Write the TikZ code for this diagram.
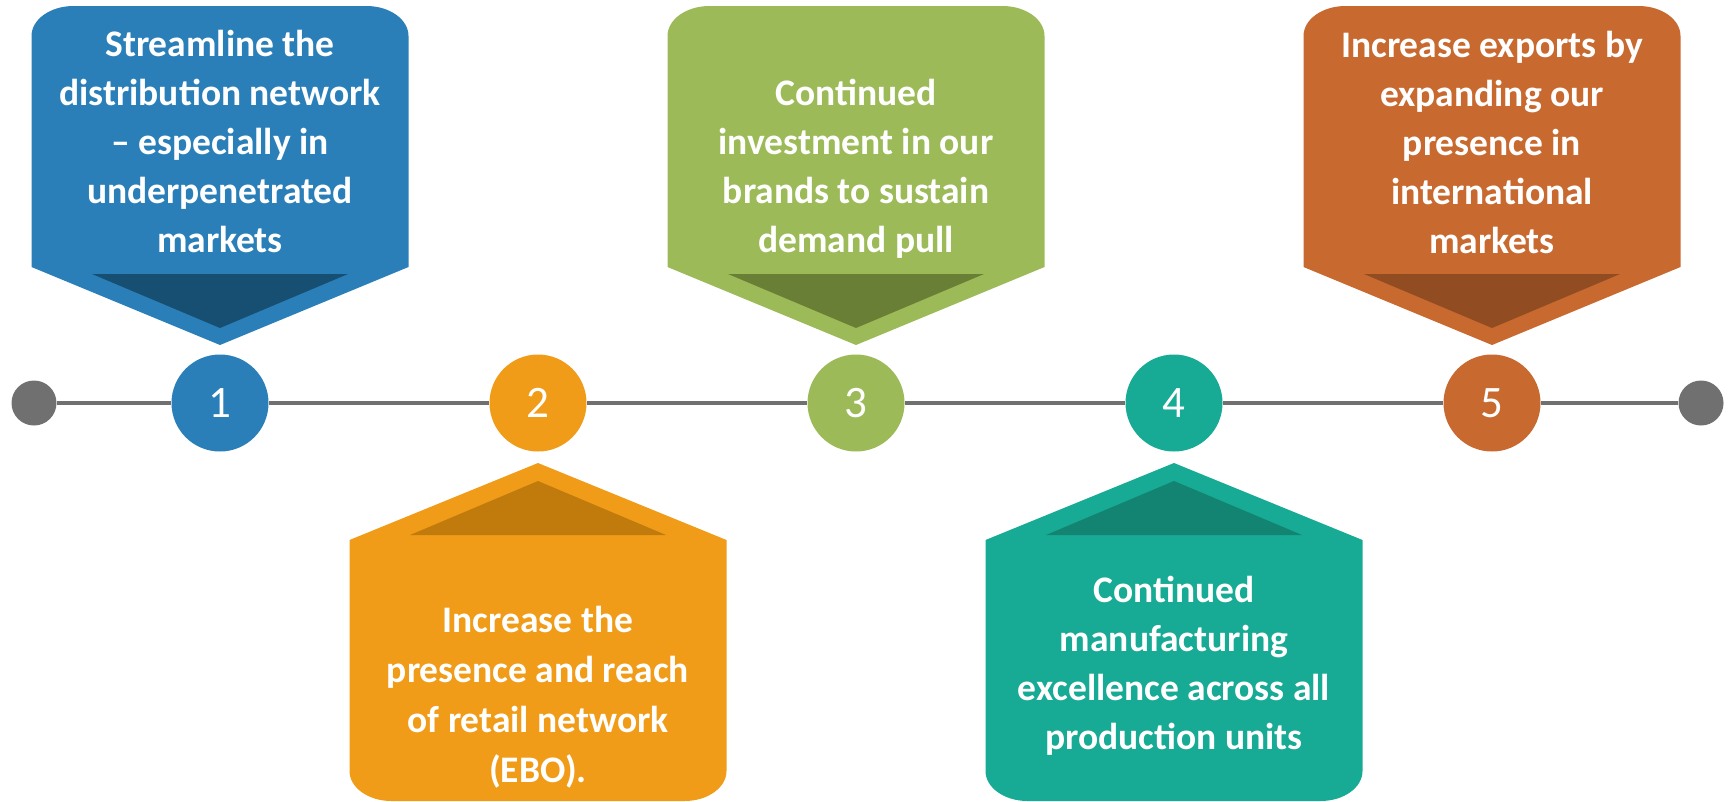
\documentclass[tikz,border=0pt]{standalone}
\usepackage{fontspec}
\setmainfont{Carlito}
\definecolor{blueA}{HTML}{2A7FB9}
\definecolor{blueD}{HTML}{174F73}
\definecolor{orangeA}{HTML}{F09C18}
\definecolor{orangeD}{HTML}{C17B0D}
\definecolor{greenA}{HTML}{9CBB58}
\definecolor{greenD}{HTML}{6A7F36}
\definecolor{tealA}{HTML}{17AA94}
\definecolor{tealD}{HTML}{138472}
\definecolor{brownA}{HTML}{C86930}
\definecolor{brownD}{HTML}{914C22}
\definecolor{lineG}{HTML}{707070}
\tikzset{
  numcircle/.style={circle, minimum size=97pt, inner sep=0pt, text=white, font=\fontsize{45}{50}\selectfont},
  enddot/.style={circle, minimum size=45pt, inner sep=0pt, fill=lineG},
  timeline/.style={draw=lineG, line width=4.7pt},
  boxtext/.style={text=white, inner sep=0pt, font=\bfseries}
}
\newcommand\topbox[3]{%
  \fill[#2] ({#1-188.5},267) -- ({#1-188.5},36) .. controls ({#1-188.5},19.4) and ({#1-169.7},6) .. ({#1-146.5},6)
    -- ({#1+146.5},6) .. controls ({#1+169.7},6) and ({#1+188.5},19.4) .. ({#1+188.5},36)
    -- ({#1+188.5},267) -- (#1,345) -- cycle;
  \fill[#3] ({#1-128},274) -- ({#1+128},274) -- (#1,328) -- cycle;
}
\newcommand\botbox[3]{%
  \fill[#2] ({#1-188.5},540) -- (#1,463) -- ({#1+188.5},540) -- ({#1+188.5},771)
    .. controls ({#1+188.5},787.6) and ({#1+169.7},801) .. ({#1+146.5},801)
    -- ({#1-146.5},801) .. controls ({#1-169.7},801) and ({#1-188.5},787.6) .. ({#1-188.5},771) -- cycle;
  \fill[#3] ({#1-128},535) -- ({#1+128},535) -- (#1,481) -- cycle;
}
\newcommand\bxfont[1]{\fontsize{37.5}{#1}\selectfont\bfseries}
\begin{document}
\begin{tikzpicture}[x=1pt,y=-1pt]
\useasboundingbox (0,0) rectangle (1728,801);
\setlength{\tabcolsep}{0pt}
% boxes
\topbox{220}{blueA}{blueD}
\botbox{538}{orangeA}{orangeD}
\topbox{856}{greenA}{greenD}
\botbox{1174}{tealA}{tealD}
\topbox{1492}{brownA}{brownD}
% timeline nodes
\node[enddot] (d0) at (34,403) {};
\node[enddot] (d6) at (1701,403) {};
\node[numcircle, fill=blueA] (c1) at (220,403) {1};
\node[numcircle, fill=orangeA] (c2) at (538,403) {2};
\node[numcircle, fill=greenA] (c3) at (856,403) {3};
\node[numcircle, fill=tealA] (c4) at (1174,403) {4};
\node[numcircle, fill=brownA] (c5) at (1492,403) {5};
\draw[timeline] (d0) -- (c1) -- (c2) -- (c3) -- (c4) -- (c5) -- (d6);
% texts
\node[boxtext, anchor=base] (t1) at (220,252) {\bxfont{49}\begin{tabular}[b]{c}Streamline the\\distribution network\\– especially in\\underpenetrated\\markets\end{tabular}};
\node[boxtext, anchor=base] (t2) at (538,782) {\bxfont{49.7}\begin{tabular}[b]{c}Increase the\\presence and reach\\of retail network\\(EBO).\end{tabular}};
\node[boxtext, anchor=base] (t3) at (856,252) {\bxfont{49}\begin{tabular}[b]{c}Continued\\investment in our\\brands to sustain\\demand pull\end{tabular}};
\node[boxtext, anchor=base] (t4) at (1174,749) {\bxfont{49}\begin{tabular}[b]{c}Continued\\manufacturing\\excellence across all\\production units\end{tabular}};
\node[boxtext, anchor=base] (t5) at (1492,253) {\bxfont{49}\begin{tabular}[b]{c}Increase exports by\\expanding our\\presence in\\international\\markets\end{tabular}};
\end{tikzpicture}
\end{document}
